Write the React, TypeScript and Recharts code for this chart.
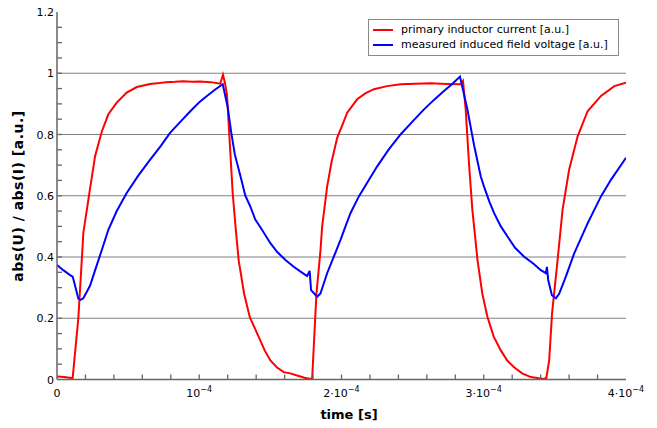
import React from 'react';
import { LineChart, Line, XAxis, YAxis, CartesianGrid, Legend } from 'recharts';

// time in units of 1e-4 s
const currentTime = [
  0, 0.05, 0.1, 0.11, 0.15, 0.178, 0.185, 0.228, 0.268, 0.315, 0.361, 0.42, 0.49, 0.561, 0.655,
  0.72, 0.77, 0.83, 0.89, 0.95, 1.007, 1.08, 1.148, 1.167, 1.18, 1.195, 1.235, 1.255, 1.277, 1.315,
  1.355, 1.418, 1.46, 1.5, 1.545, 1.594, 1.64, 1.688, 1.74, 1.782, 1.794, 1.824, 1.852, 1.864,
  1.899, 1.93, 1.97, 2.005, 2.04, 2.11, 2.17, 2.228, 2.32, 2.415, 2.52, 2.627, 2.74, 2.838, 2.854,
  2.873, 2.897, 2.92, 2.956, 2.99, 3.026, 3.07, 3.12, 3.165, 3.213, 3.27, 3.331, 3.42, 3.44, 3.46,
  3.48, 3.519, 3.554, 3.6, 3.66, 3.73, 3.824, 3.918, 4.0,
];
const currentValue = [
  0.01, 0.008, 0.005, 0.005, 0.2, 0.42, 0.478, 0.61, 0.73, 0.81, 0.866, 0.904, 0.937, 0.955, 0.965,
  0.968, 0.971, 0.972, 0.974, 0.972, 0.973, 0.971, 0.966, 0.995, 0.97, 0.93, 0.609, 0.5, 0.39, 0.281,
  0.204, 0.139, 0.095, 0.062, 0.04, 0.024, 0.02, 0.013, 0.006, 0.002, 0.005, 0.281, 0.42, 0.5,
  0.63, 0.71, 0.79, 0.83, 0.871, 0.915, 0.935, 0.948, 0.958, 0.964, 0.966, 0.967, 0.965, 0.964, 0.975,
  0.882, 0.7, 0.554, 0.39, 0.28, 0.204, 0.14, 0.095, 0.062, 0.04, 0.02, 0.008, 0.002, 0.005, 0.062,
  0.215, 0.39, 0.554, 0.685, 0.794, 0.876, 0.926, 0.958, 0.969,
];

const voltageTime = [
  0, 0.044, 0.092, 0.11, 0.125, 0.15, 0.165, 0.185, 0.232, 0.268, 0.315, 0.361, 0.42, 0.49, 0.57,
  0.655, 0.73, 0.796, 0.87, 0.937, 1.0, 1.054, 1.11, 1.165, 1.2, 1.225, 1.25, 1.289, 1.324, 1.359,
  1.394, 1.441, 1.5, 1.547, 1.606, 1.664, 1.72, 1.758, 1.772, 1.776, 1.78, 1.786, 1.8, 1.829, 1.852,
  1.899, 1.946, 1.993, 2.028, 2.063, 2.122, 2.19, 2.251, 2.33, 2.415, 2.5, 2.58, 2.65, 2.72, 2.78,
  2.833, 2.885, 2.932, 2.979, 3.002, 3.04, 3.073, 3.12, 3.167, 3.22, 3.284, 3.35, 3.401, 3.437,
  3.444, 3.453, 3.479, 3.507, 3.53, 3.577, 3.636, 3.73, 3.824, 3.894, 4.0,
];
const voltageValue = [
  0.374, 0.357, 0.341, 0.336, 0.31, 0.264, 0.26, 0.265, 0.306, 0.357, 0.423, 0.489, 0.55, 0.609, 0.665,
  0.718, 0.763, 0.806, 0.843, 0.876, 0.905, 0.926, 0.946, 0.964, 0.89, 0.806, 0.735, 0.665, 0.6, 0.565,
  0.522, 0.489, 0.445, 0.417, 0.39, 0.368, 0.35, 0.338, 0.35, 0.355, 0.33, 0.292, 0.285, 0.27, 0.281,
  0.347, 0.401, 0.456, 0.5, 0.543, 0.598, 0.65, 0.696, 0.75, 0.8, 0.843, 0.882, 0.913, 0.942, 0.966,
  0.989, 0.882, 0.765, 0.663, 0.63, 0.58, 0.543, 0.5, 0.467, 0.43, 0.401, 0.378, 0.357, 0.347,
  0.368, 0.325, 0.275, 0.265, 0.28, 0.336, 0.412, 0.51, 0.598, 0.652, 0.724,
];

const xMinorTicks = [0, 0.2, 0.4, 0.6, 0.8, 1, 1.2, 1.4, 1.6, 1.8, 2, 2.2, 2.4, 2.6, 2.8, 3, 3.2, 3.4, 3.6, 3.8, 4];
const xLabelTicks = [0, 1, 2, 3, 4];
const yMinorTicks = [0, 0.05, 0.1, 0.15, 0.2, 0.25, 0.3, 0.35, 0.4, 0.45, 0.5, 0.55, 0.6, 0.65, 0.7, 0.75, 0.8, 0.85, 0.9, 0.95, 1, 1.05, 1.1, 1.15, 1.2];
const yLabelTicks = [0, 0.2, 0.4, 0.6, 0.8, 1, 1.2];
const gridValues = [0.2, 0.4, 0.6, 0.8, 1];
const seriesNames = ['primary inductor current [a.u.]', 'measured induced field voltage [a.u.]'];
const seriesColors = ['#ff0000', '#0000ff'];
const xTitle = 'time [s]';
const yTitle = 'abs(U) / abs(I) [a.u.]';

const currentData = currentTime.map((t, i) => ({ t, v: currentValue[i] }));
const voltageData = voltageTime.map((t, i) => ({ t, v: voltageValue[i] }));

const FONT = '"DejaVu Sans", Verdana, sans-serif';
const AXIS = '#666666';
const TICK_LEN = 5;
const isIn = (arr: number[], v: number) => arr.some((m) => Math.abs(m - v) < 1e-6);

const BottomTick = (props: any) => {
  const { x, y, payload } = props;
  const v = payload.value as number;
  const inner = v > 1e-6 && v < 4 - 1e-6;
  let label: React.ReactNode = null;
  if (isIn(xLabelTicks, v)) {
    const n = Math.round(v);
    label =
      n === 0 ? (
        <text x={x} y={y + 17} textAnchor="middle" fontFamily={FONT} fontSize={11} fill="#000">0</text>
      ) : (
        <text x={x} y={y + 17} textAnchor="middle" fontFamily={FONT} fontSize={11} fill="#000">
          {n === 1 ? '' : `${n}·`}10
          <tspan dy={-5} fontSize={8}>−4</tspan>
        </text>
      );
  }
  return (
    <g>
      {inner && <line x1={x} x2={x} y1={y} y2={y - TICK_LEN} stroke={AXIS} strokeWidth={1.3} />}
      {label}
    </g>
  );
};

const TopTick = (props: any) => {
  const { x, y, payload } = props;
  const v = payload.value as number;
  if (!(v > 1e-6 && v < 4 - 1e-6)) return <g />;
  return <line x1={x} x2={x} y1={y} y2={y + TICK_LEN} stroke={AXIS} strokeWidth={1.3} />;
};

const LeftTick = (props: any) => {
  const { x, y, payload } = props;
  const v = payload.value as number;
  const inner = v > 1e-6 && v < 1.2 - 1e-6;
  const lab = isIn(yLabelTicks, v) ? (Math.abs(v) < 1e-6 ? '0' : Math.abs(v - 1) < 1e-6 ? '1' : v.toFixed(1)) : null;
  return (
    <g>
      {inner && <line x1={x} x2={x + TICK_LEN} y1={y} y2={y} stroke={AXIS} strokeWidth={1.3} />}
      {lab !== null && (
        <text x={x - 3} y={y + 4} textAnchor="end" fontFamily={FONT} fontSize={11} fill="#000">{lab}</text>
      )}
    </g>
  );
};

const RightTick = (props: any) => {
  const { x, y, payload } = props;
  const v = payload.value as number;
  if (!(v > 1e-6 && v < 1.2 - 1e-6)) return <g />;
  return <line x1={x} x2={x - TICK_LEN} y1={y} y2={y} stroke={AXIS} strokeWidth={1.3} />;
};

const LegendBox = () => (
  <div
    style={{
      position: 'relative',
      width: 251,
      height: 37,
      border: '1px solid #8a8a8a',
      background: '#fff',
      boxSizing: 'border-box',
      fontFamily: FONT,
      fontSize: 11,
      color: '#000',
    }}
  >
    {seriesNames.map((name, i) => (
      <div key={name} style={{ position: 'absolute', left: 0, top: 3 + i * 14.5, height: 14, width: '100%' }}>
        <div style={{ position: 'absolute', left: 4, top: 6, width: 20, height: 2, background: seriesColors[i] }} />
        <span style={{ position: 'absolute', left: 32, top: 0, lineHeight: '14px', whiteSpace: 'nowrap' }}>{name}</span>
      </div>
    ))}
  </div>
);

export default function App() {
  return (
    <div style={{ position: 'absolute', left: 0, top: 0, width: 657, height: 428, background: '#fff' }}>
      <LineChart width={657} height={428} margin={{ top: 12, right: 31, bottom: 0, left: 0 }}>
        <CartesianGrid
          vertical={false}
          horizontalValues={gridValues}
          stroke="#808080"
          strokeWidth={1}
        />
        <XAxis
          dataKey="t"
          type="number"
          domain={[0, 4]}
          ticks={xMinorTicks}
          interval={0}
          allowDataOverflow
          height={48.5}
          tickSize={0}
          tickMargin={0}
          tickLine={false}
          axisLine={{ stroke: AXIS, strokeWidth: 1.5 }}
          tick={<BottomTick />}
          label={{
            value: xTitle,
            content: () => (
              <text x={349} y={419} textAnchor="middle" fontFamily={FONT} fontWeight="bold" fontSize={13} fill="#000">
                {xTitle}
              </text>
            ),
          }}
        />
        <XAxis
          xAxisId="top"
          orientation="top"
          dataKey="t"
          type="number"
          domain={[0, 4]}
          ticks={xMinorTicks}
          interval={0}
          allowDataOverflow
          height={0}
          tickSize={0}
          tickMargin={0}
          tickLine={false}
          axisLine={{ stroke: AXIS, strokeWidth: 1.5 }}
          tick={<TopTick />}
        />
        <YAxis
          type="number"
          domain={[0, 1.2]}
          ticks={yMinorTicks}
          interval={0}
          allowDataOverflow
          width={57}
          tickSize={0}
          tickMargin={0}
          tickLine={false}
          axisLine={{ stroke: AXIS, strokeWidth: 1.5 }}
          tick={<LeftTick />}
          label={{
            value: yTitle,
            content: () => (
              <text
                x={18}
                y={196}
                transform="rotate(-90 18 196)"
                textAnchor="middle"
                dominantBaseline="central"
                fontFamily={FONT}
                fontWeight="bold"
                fontSize={14}
                letterSpacing={0.5}
                fill="#000"
              >
                {yTitle}
              </text>
            ),
          }}
        />
        <YAxis
          yAxisId="right"
          orientation="right"
          type="number"
          domain={[0, 1.2]}
          ticks={yMinorTicks}
          interval={0}
          allowDataOverflow
          width={0}
          tickSize={0}
          tickMargin={0}
          tickLine={false}
          axisLine={{ stroke: AXIS, strokeWidth: 1.5 }}
          tick={<RightTick />}
        />
        <Legend
          layout="vertical"
          align="center"
          verticalAlign="middle"
          wrapperStyle={{ left: 368, top: 19, width: 251, height: 37 }}
          content={() => <LegendBox />}
        />
        <Line
          data={currentData}
          dataKey="v"
          name={seriesNames[0]}
          stroke={seriesColors[0]}
          strokeWidth={2}
          dot={false}
          activeDot={false}
          type="linear"
          isAnimationActive={false}
        />
        <Line
          data={voltageData}
          dataKey="v"
          name={seriesNames[1]}
          stroke={seriesColors[1]}
          strokeWidth={2}
          dot={false}
          activeDot={false}
          type="linear"
          isAnimationActive={false}
        />
      </LineChart>
    </div>
  );
}
